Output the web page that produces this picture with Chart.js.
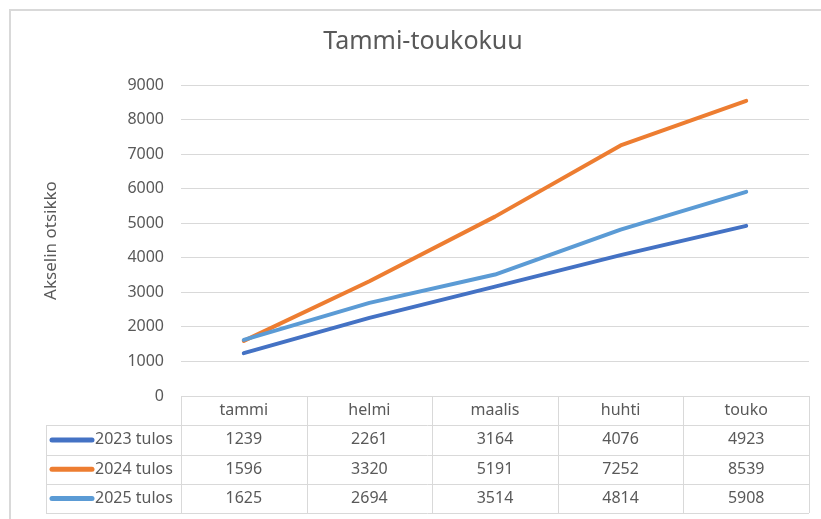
<!DOCTYPE html>
<html lang="fi">
<head>
<meta charset="UTF-8">
<title>Tammi-toukokuu</title>
<script src="https://cdn.jsdelivr.net/npm/chart.js"></script>
<style>
  html, body { margin: 0; padding: 0; background: #fff; overflow: hidden; }
  .frame {
    position: absolute; left: 9px; top: 9px;
    width: 840px; height: 540px;
    border: 2px solid #d9d9d9;
  }
  .wrap { position: absolute; left: 0; top: 0; width: 821px; height: 519px; }
</style>
</head>
<body>
<div class="frame"></div>
<div class="wrap"><canvas id="chart" width="821" height="519"></canvas></div>
<script>
const months = ['tammi', 'helmi', 'maalis', 'huhti', 'touko'];
const seriesNames = ['2023 tulos', '2024 tulos', '2025 tulos'];
const tulos2023 = [1239, 2261, 3164, 4076, 4923];
const tulos2024 = [1596, 3320, 5191, 7252, 8539];
const tulos2025 = [1625, 2694, 3514, 4814, 5908];
const seriesColors = ['#4472C4', '#ED7D31', '#5B9BD5'];

const textColor = '#595959';
const gridColor = '#d9d9d9';
const fontFamily = '"Noto Sans", sans-serif';

// Excel-style data table under the plot
const dataTable = {
  id: 'dataTable',
  afterDraw(chart) {
    const ctx = chart.ctx;
    const area = chart.chartArea;
    const xs = chart.scales.x;
    const colW = (area.right - area.left) / months.length;
    const rowH = 29.25;
    const top = area.bottom;
    const tableLeft = 46;
    const bottom = top + rowH * 4;

    ctx.save();
    ctx.strokeStyle = gridColor;
    ctx.lineWidth = 1;
    ctx.beginPath();
    // header top
    ctx.moveTo(area.left, Math.round(top) + 0.5);
    ctx.lineTo(area.right, Math.round(top) + 0.5);
    // row lines
    for (let r = 1; r <= 4; r++) {
      const y = Math.round(top + rowH * r) + 0.5;
      ctx.moveTo(tableLeft, y);
      ctx.lineTo(area.right, y);
    }
    // verticals
    for (let c = 0; c <= months.length; c++) {
      const x = Math.round(area.left + colW * c) + 0.5;
      ctx.moveTo(x, top);
      ctx.lineTo(x, bottom);
    }
    ctx.moveTo(tableLeft + 0.5, top + rowH);
    ctx.lineTo(tableLeft + 0.5, bottom);
    ctx.stroke();

    ctx.fillStyle = textColor;
    ctx.font = '16px ' + fontFamily;
    ctx.textAlign = 'center';
    ctx.textBaseline = 'middle';
    months.forEach((m, i) => {
      ctx.fillText(m, xs.getPixelForValue(i), top + rowH / 2);
    });

    chart.data.datasets.forEach((ds, r) => {
      const cy = top + rowH * (r + 1) + rowH / 2;
      ds.data.forEach((v, i) => {
        ctx.fillStyle = textColor;
        ctx.textAlign = 'center';
        ctx.fillText(String(v), xs.getPixelForValue(i), cy);
      });
      // legend key
      ctx.strokeStyle = ds.borderColor;
      ctx.lineWidth = 5;
      ctx.lineCap = 'round';
      ctx.beginPath();
      ctx.moveTo(52, cy);
      ctx.lineTo(92, cy);
      ctx.stroke();
      ctx.fillStyle = textColor;
      ctx.textAlign = 'left';
      ctx.fillText(ds.label, 95, cy);
    });
    ctx.restore();
  }
};

const makeSet = (i, values) => ({
  label: seriesNames[i],
  data: values,
  borderColor: seriesColors[i],
  backgroundColor: seriesColors[i],
  borderWidth: 4,
  borderCapStyle: 'round',
  borderJoinStyle: 'round',
  pointRadius: 0,
  tension: 0,
  fill: false,
  order: 3 - i
});

new Chart(document.getElementById('chart'), {
  type: 'line',
  data: {
    labels: months,
    datasets: [makeSet(0, tulos2023), makeSet(1, tulos2024), makeSet(2, tulos2025)]
  },
  options: {
    responsive: false,
    animation: false,
    layout: { padding: { left: 37, right: 12, top: 0, bottom: 123 } },
    plugins: {
      legend: { display: false },
      tooltip: { enabled: false },
      title: {
        display: true,
        text: 'Tammi-toukokuu',
        color: textColor,
        font: { family: fontFamily, size: 25, weight: 'normal' },
        padding: { top: 27, bottom: 28 }
      }
    },
    scales: {
      x: {
        display: false,
        offset: true
      },
      y: {
        min: 0,
        max: 9000,
        afterFit(scale) { scale.width = 144; },
        ticks: {
          stepSize: 1000,
          color: textColor,
          padding: 17,
          font: { family: fontFamily, size: 16 },
          callback: (v) => String(v)
        },
        grid: { color: gridColor, drawTicks: false },
        border: { display: false },
        title: {
          display: true,
          text: 'Akselin otsikko',
          color: textColor,
          font: { family: fontFamily, size: 17 }
        }
      }
    }
  },
  plugins: [dataTable]
});
</script>
</body>
</html>
